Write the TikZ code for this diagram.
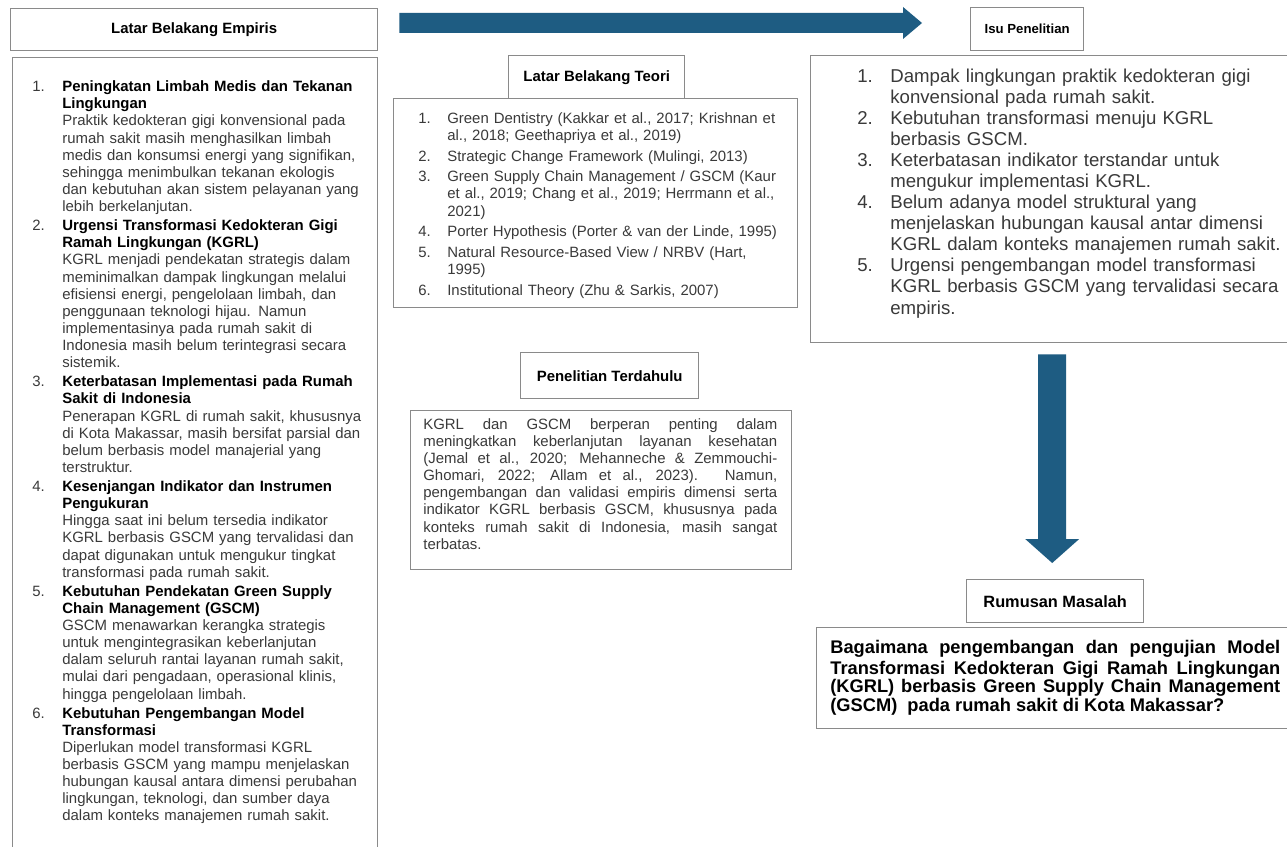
\documentclass[tikz,border=0pt]{standalone}
\usepackage{fontspec}
\setmainfont{Liberation Sans}
\usetikzlibrary{calc}
\definecolor{flowblue}{HTML}{1E5C82}
\definecolor{framegray}{HTML}{8A8A8A}
\definecolor{bodytext}{HTML}{3A3A3A}
% numbered entry with hanging indent: #1 indent, #2 number, #3 text
\newcommand{\numitem}[3]{\noindent\hangindent=#1\hangafter=1\strut\makebox[#1][l]{#2}#3\par}
\newcommand{\bt}[1]{{\bfseries\color{black}#1}}
\begin{document}
\begin{tikzpicture}[x=0.02cm,y=-0.02cm,
  frame/.style={draw=framegray, line width=0.8pt, inner sep=0pt},
  hdr/.style={frame, anchor=north west, text=black, align=center,
    font=\bfseries\fontsize{8.5}{10}\selectfont},
  listtext/.style={inner sep=0pt, anchor=north west, align=left, text=bodytext},
  justtext/.style={inner sep=0pt, anchor=north west, align=justify}]
\useasboundingbox (0,0) rectangle (1287,847);
\clip (0,0) rectangle (1287,847);
\fill[white] (0,0) rectangle (1287,847);

% ---------- left column: empirical background ----------
\node[hdr, minimum width=7.34cm, minimum height=0.84cm] (empH) at (10,8) {Latar Belakang Empiris};
\node[frame, anchor=north west, minimum width=7.30cm, minimum height=16.1cm] (empB) at (12,57) {};
\node[listtext, text width=6.9cm, font=\fontsize{8.5}{9.75}\selectfont] (empT) at (32,79.4) {%
\setlength{\parskip}{1.1pt}%
\numitem{0.6cm}{1.}{\bt{Peningkatan Limbah Medis dan Tekanan\newline Lingkungan}\newline
Praktik kedokteran gigi konvensional pada\newline
rumah sakit masih menghasilkan limbah\newline
medis dan konsumsi energi yang signifikan,\newline
sehingga menimbulkan tekanan ekologis\newline
dan kebutuhan akan sistem pelayanan yang\newline
lebih berkelanjutan.}
\numitem{0.6cm}{2.}{\bt{Urgensi Transformasi Kedokteran Gigi\newline Ramah Lingkungan (KGRL)}\newline
KGRL menjadi pendekatan strategis dalam\newline
meminimalkan dampak lingkungan melalui\newline
efisiensi energi, pengelolaan limbah, dan\newline
penggunaan teknologi hijau. Namun\newline
implementasinya pada rumah sakit di\newline
Indonesia masih belum terintegrasi secara\newline
sistemik.}
\numitem{0.6cm}{3.}{\bt{Keterbatasan Implementasi pada Rumah\newline Sakit di Indonesia}\newline
Penerapan KGRL di rumah sakit, khususnya\newline
di Kota Makassar, masih bersifat parsial dan\newline
belum berbasis model manajerial yang\newline
terstruktur.}
\numitem{0.6cm}{4.}{\bt{Kesenjangan Indikator dan Instrumen\newline Pengukuran}\newline
Hingga saat ini belum tersedia indikator\newline
KGRL berbasis GSCM yang tervalidasi dan\newline
dapat digunakan untuk mengukur tingkat\newline
transformasi pada rumah sakit.}
\numitem{0.6cm}{5.}{\bt{Kebutuhan Pendekatan Green Supply\newline Chain Management (GSCM)}\newline
GSCM menawarkan kerangka strategis\newline
untuk mengintegrasikan keberlanjutan\newline
dalam seluruh rantai layanan rumah sakit,\newline
mulai dari pengadaan, operasional klinis,\newline
hingga pengelolaan limbah.}
\numitem{0.6cm}{6.}{\bt{Kebutuhan Pengembangan Model\newline Transformasi}\newline
Diperlukan model transformasi KGRL\newline
berbasis GSCM yang mampu menjelaskan\newline
hubungan kausal antara dimensi perubahan\newline
lingkungan, teknologi, dan sumber daya\newline
dalam konteks manajemen rumah sakit.}};

% ---------- middle column: theory ----------
\node[hdr, minimum width=3.52cm, minimum height=0.86cm] (teoH) at (508,55) {Latar Belakang Teori};
\node[frame, anchor=north west, minimum width=8.08cm, minimum height=4.18cm] (teoB) at (393,98) {};
\node[listtext, text width=7.2cm, font=\fontsize{8.5}{9.75}\selectfont] (teoT) at (418,111) {%
\setlength{\parskip}{2pt}%
\numitem{0.58cm}{1.}{Green Dentistry (Kakkar et al., 2017; Krishnan et\newline al., 2018; Geethapriya et al., 2019)}
\numitem{0.58cm}{2.}{Strategic Change Framework (Mulingi, 2013)}
\numitem{0.58cm}{3.}{Green Supply Chain Management / GSCM (Kaur\newline et al., 2019; Chang et al., 2019; Herrmann et al.,\newline 2021)}
\numitem{0.58cm}{4.}{Porter Hypothesis (Porter \& van der Linde, 1995)}
\numitem{0.58cm}{5.}{Natural Resource-Based View / NRBV (Hart,\newline 1995)}
\numitem{0.58cm}{6.}{Institutional Theory (Zhu \& Sarkis, 2007)}};

% ---------- middle column: previous studies ----------
\node[hdr, minimum width=3.56cm, minimum height=0.92cm] (penH) at (520,352) {Penelitian Terdahulu};
\node[frame, anchor=north west, minimum width=7.62cm, minimum height=3.18cm] (penB) at (410,410) {};
\node[justtext, text width=7.08cm, text=bodytext, font=\fontsize{8.5}{9.75}\selectfont] (penT) at (423,417) {%
\strut KGRL dan GSCM berperan penting dalam\linebreak
meningkatkan keberlanjutan layanan kesehatan\linebreak
(Jemal et al., 2020; Mehanneche \& Zemmouchi-\linebreak
Ghomari, 2022; Allam et al., 2023). Namun,\linebreak
pengembangan dan validasi empiris dimensi serta\linebreak
indikator KGRL berbasis GSCM, khususnya pada\linebreak
konteks rumah sakit di Indonesia, masih sangat\linebreak
terbatas.};

% ---------- right column: research issues ----------
\node[hdr, minimum width=2.26cm, minimum height=0.86cm, font=\bfseries\fontsize{7.5}{9}\selectfont] (isuH) at (970,7) {Isu Penelitian};
\node[frame, anchor=north west, minimum width=9.7cm, minimum height=5.74cm] (isuB) at (810,55) {};
\node[listtext, text width=8.6cm, font=\fontsize{10.6}{12}\selectfont] (isuT) at (857,67) {%
\setlength{\parskip}{0pt}%
\numitem{0.66cm}{1.}{Dampak lingkungan praktik kedokteran gigi\newline konvensional pada rumah sakit.}
\numitem{0.66cm}{2.}{Kebutuhan transformasi menuju KGRL\newline berbasis GSCM.}
\numitem{0.66cm}{3.}{Keterbatasan indikator terstandar untuk\newline mengukur implementasi KGRL.}
\numitem{0.66cm}{4.}{Belum adanya model struktural yang\newline menjelaskan hubungan kausal antar dimensi\newline KGRL dalam konteks manajemen rumah sakit.}
\numitem{0.66cm}{5.}{Urgensi pengembangan model transformasi\newline KGRL berbasis GSCM yang tervalidasi secara\newline empiris.}};

% ---------- right column: problem statement ----------
\node[hdr, minimum width=3.54cm, minimum height=0.86cm, font=\bfseries\fontsize{9.3}{11}\selectfont] (rumH) at (966,579) {Rumusan Masalah};
\node[frame, anchor=north west, minimum width=9.58cm, minimum height=2.02cm] (rumB) at (816,627) {};
\node[justtext, text width=9.0cm, text=black, font=\bfseries\fontsize{10.4}{10.6}\selectfont] (rumT) at (830,640) {%
\strut Bagaimana pengembangan dan pengujian Model\linebreak
Transformasi Kedokteran Gigi Ramah Lingkungan\linebreak
(KGRL) berbasis Green Supply Chain Management\linebreak
(GSCM)\ \ pada rumah sakit di Kota Makassar?};

% ---------- block arrows ----------
\coordinate (hs) at ($(empH.north east)+(21,15)$);
\coordinate (he) at ($(isuH.north west)+(-48,16)$);
\fill[flowblue] ($(hs)+(0,-10)$) -- ($(he)+(-19,-10)$) -- ($(he)+(-19,-16)$) -- (he)
  -- ($(he)+(-19,16)$) -- ($(he)+(-19,10)$) -- ($(hs)+(0,10)$) -- cycle;

\coordinate (de) at ($(rumH.north)+(-3,-16)$);
\coordinate (ds) at ($(isuB.south -| de)+(0,11)$);
\fill[flowblue] ($(ds)+(-14,0)$) -- ($(de)+(-14,-24)$) -- ($(de)+(-27,-24)$) -- (de)
  -- ($(de)+(27,-24)$) -- ($(de)+(14,-24)$) -- ($(ds)+(14,0)$) -- cycle;
\end{tikzpicture}
\end{document}
